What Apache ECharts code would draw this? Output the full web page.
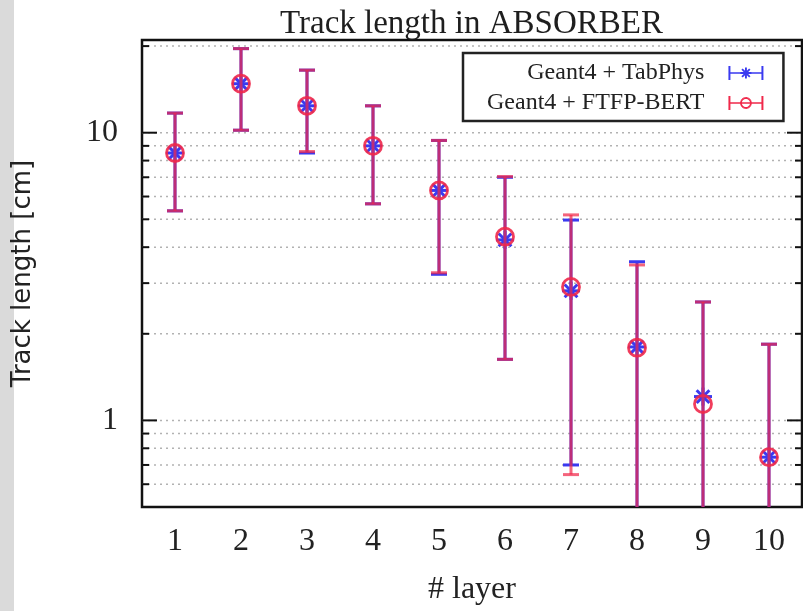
<!DOCTYPE html>
<html><head><meta charset="utf-8">
<script src="https://cdn.jsdelivr.net/npm/echarts@6/dist/echarts.min.js"></script>
<style>html,body{margin:0;padding:0;background:#fff}#c{width:803px;height:611px}</style>
</head><body><div id="c"></div>
<script>
const layers = ['1','2','3','4','5','6','7','8','9','10'];
const tabValue  = [8.5, 14.8, 12.4, 9.0, 6.3, 4.24, 2.82, 1.80, 1.21, 0.745];
const tabLow    = [5.35, 10.2, 8.5, 5.66, 3.22, 1.63, 0.70, 0.1, 0.1, 0.1];
const tabHigh   = [11.7, 19.6, 16.5, 12.4, 9.4, 7.0, 4.97, 3.56, 2.58, 1.84];
const ftfpValue = [8.5, 14.8, 12.4, 9.0, 6.3, 4.35, 2.91, 1.79, 1.14, 0.745];
const ftfpLow   = [5.35, 10.2, 8.6, 5.66, 3.26, 1.63, 0.648, 0.1, 0.1, 0.1];
const ftfpHigh  = [11.7, 19.6, 16.5, 12.4, 9.4, 7.04, 5.18, 3.47, 2.58, 1.84];
const gridValues = [0.6, 0.7, 0.8, 0.9, 1, 2, 3, 4, 5, 6, 7, 8, 9, 10, 20];
const majorValues = [1, 10];

const BLUE = '#3a3af0';
const RED = '#f0284a';

function seg(x1, y1, x2, y2, t) {
  const dx = x2 - x1, dy = y2 - y1, L = Math.hypot(dx, dy);
  const nx = -dy / L * t, ny = dx / L * t;
  const f = n => n.toFixed(2);
  return 'M' + f(x1 + nx) + ',' + f(y1 + ny) + 'L' + f(x2 + nx) + ',' + f(y2 + ny) +
         'L' + f(x2 - nx) + ',' + f(y2 - ny) + 'L' + f(x1 - nx) + ',' + f(y1 - ny) + 'Z';
}
function barIcon() {
  return seg(0, 14, 70, 14, 1.7) + seg(2, 0, 2, 28, 2) + seg(68, 0, 68, 28, 2);
}
let tabIcon = 'path://' + barIcon();
for (let k = 0; k < 4; k++) {
  const a = k * Math.PI / 4, r = 11;
  tabIcon += seg(35 - r * Math.cos(a), 14 - r * Math.sin(a), 35 + r * Math.cos(a), 14 + r * Math.sin(a), 1.9);
}
let ftfpIcon = 'path://' + barIcon();
const NSEG = 24;
for (let k = 0; k < NSEG; k++) {
  const a1 = k * 2 * Math.PI / NSEG, a2 = (k + 1) * 2 * Math.PI / NSEG, r = 10;
  ftfpIcon += seg(35 + r * Math.cos(a1), 14 + r * Math.sin(a1), 35 + r * Math.cos(a2), 14 + r * Math.sin(a2), 1.8);
}

function errorBarItem(color, marker, lineOpacity) {
  return function (params, api) {
    const x = api.value(0);
    const pv = api.coord([x, api.value(1)]);
    const pl = api.coord([x, api.value(2)]);
    const ph = api.coord([x, api.value(3)]);
    const cap = 8;
    const ls = { stroke: color, lineWidth: 3, opacity: lineOpacity };
    const children = [
      { type: 'line', shape: { x1: pv[0], y1: pl[1], x2: pv[0], y2: ph[1] }, style: ls },
      { type: 'line', shape: { x1: pv[0] - cap, y1: pl[1], x2: pv[0] + cap, y2: pl[1] }, style: ls },
      { type: 'line', shape: { x1: pv[0] - cap, y1: ph[1], x2: pv[0] + cap, y2: ph[1] }, style: ls }
    ];
    if (marker === 'star') {
      const r = 9;
      for (let k = 0; k < 4; k++) {
        const a = k * Math.PI / 4;
        children.push({ type: 'line', shape: { x1: pv[0] - r * Math.cos(a), y1: pv[1] - r * Math.sin(a), x2: pv[0] + r * Math.cos(a), y2: pv[1] + r * Math.sin(a) }, style: { stroke: color, lineWidth: 3 } });
      }
    } else {
      children.push({ type: 'circle', shape: { cx: pv[0], cy: pv[1], r: 8.5 }, style: { fill: 'none', stroke: color, lineWidth: 2.8, opacity: 0.9 } });
    }
    return { type: 'group', children: children };
  };
}

const chart = echarts.init(document.getElementById('c'), null, { renderer: 'canvas' });
chart.setOption({
  backgroundColor: '#ffffff',
  animation: false,
  color: [BLUE, RED],
  title: {
    text: 'Track length in ABSORBER',
    left: 275, top: 3,
    textStyle: { fontFamily: 'Liberation Serif', fontSize: 33, fontWeight: 'normal', color: '#1e1e1e' }
  },
  graphic: [
    { type: 'rect', z: -1, shape: { x: 0, y: 0, width: 14, height: 611 }, style: { fill: '#dadada' } }
  ],
  legend: {
    orient: 'vertical', align: 'right', left: 463, top: 53,
    padding: [8, 20, 6, 24], itemGap: 6, itemWidth: 35, itemHeight: 14,
    backgroundColor: '#ffffff', borderColor: '#222', borderWidth: 2.5, borderRadius: 0,
    selectedMode: false,
    textStyle: { fontFamily: 'Liberation Serif', fontSize: 24, color: '#222', padding: [0, 19, 0, 0] },
    data: [
      { name: 'Geant4 + TabPhys', icon: tabIcon, itemStyle: { color: BLUE } },
      { name: 'Geant4 + FTFP-BERT', icon: ftfpIcon, itemStyle: { color: RED } }
    ]
  },
  grid: {
    left: 142, right: 1, top: 40, bottom: 104,
    show: true, borderColor: '#111', borderWidth: 2.5, backgroundColor: 'transparent'
  },
  xAxis: {
    type: 'category', data: layers, boundaryGap: true,
    axisLine: { show: false }, axisTick: { show: false }, splitLine: { show: false },
    axisLabel: { fontFamily: 'Liberation Serif', fontSize: 32, color: '#222', margin: 19 },
    name: '# layer', nameLocation: 'middle', nameGap: 67,
    nameTextStyle: { fontFamily: 'Liberation Serif', fontSize: 32, color: '#222' }
  },
  yAxis: {
    type: 'log', logBase: 10, min: 0.5, max: 21,
    axisLine: { show: false }, axisTick: { show: false }, splitLine: { show: false }, minorTick: { show: false },
    axisLabel: {
      fontFamily: 'Liberation Serif', fontSize: 32, color: '#222', margin: 24,
      showMinLabel: false, showMaxLabel: false,
      formatter: function (v) {
        const l = Math.log10(v);
        return (Math.abs(l - Math.round(l)) < 1e-6 && v >= 0.99) ? String(Math.round(v)) : '';
      }
    },
    name: 'Track length [cm]', nameLocation: 'middle', nameGap: 106, nameRotate: 90,
    nameTextStyle: { fontFamily: 'DejaVu Sans', fontSize: 26, color: '#222' }
  },
  series: [
    {
      type: 'custom', name: 'grid', silent: true, clip: true, z: 1,
      data: gridValues.map(v => [layers[0], v]),
      renderItem: function (params, api) {
        const cs = params.coordSys;
        const v = api.value(1);
        const y = api.coord([api.value(0), v])[1];
        const tl = majorValues.indexOf(v) >= 0 ? 15 : 7;
        return {
          type: 'group', children: [
            { type: 'line', shape: { x1: cs.x, y1: y, x2: cs.x + cs.width, y2: y }, style: { stroke: '#b2b2b2', lineWidth: 1.5, lineDash: [2, 4] } },
            { type: 'line', shape: { x1: cs.x, y1: y, x2: cs.x + tl, y2: y }, style: { stroke: '#111', lineWidth: 2 } },
            { type: 'line', shape: { x1: cs.x + cs.width - tl, y1: y, x2: cs.x + cs.width, y2: y }, style: { stroke: '#111', lineWidth: 2 } }
          ]
        };
      }
    },
    {
      type: 'custom', name: 'Geant4 + TabPhys', clip: true, z: 2,
      itemStyle: { color: BLUE },
      data: layers.map((c, i) => [c, tabValue[i], tabLow[i], tabHigh[i]]),
      renderItem: errorBarItem(BLUE, 'star', 1)
    },
    {
      type: 'custom', name: 'Geant4 + FTFP-BERT', clip: true, z: 3,
      itemStyle: { color: RED },
      data: layers.map((c, i) => [c, ftfpValue[i], ftfpLow[i], ftfpHigh[i]]),
      renderItem: errorBarItem(RED, 'circle', 0.72)
    }
  ]
});
</script>
</body></html>
